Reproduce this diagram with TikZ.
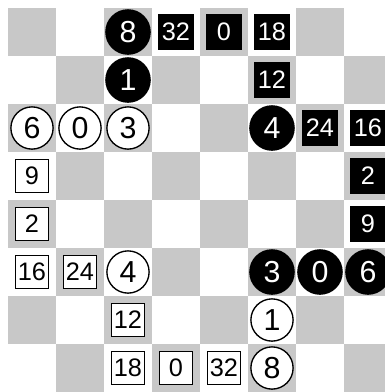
\documentclass[tikz,border=0pt]{standalone}
\usepackage{fontspec}
\setmainfont{Liberation Sans}
\definecolor{boardgray}{HTML}{C8C8C8}

\begin{document}
\begin{tikzpicture}[
 bstone/.style={circle,fill=black,text=white,inner sep=0pt,
  minimum size=0.95cm,font=\fontsize{18}{20}\selectfont},
 wstone/.style={circle,draw=black,line width=0.8pt,fill=white,inner sep=0pt,
  minimum size=0.88cm,font=\fontsize{18}{20}\selectfont},
 bbox/.style={rectangle,fill=black,text=white,inner sep=0pt,
  minimum width=0.75cm,minimum height=0.74cm,font=\fontsize{15}{17}\selectfont},
 wbox/.style={rectangle,draw=black,line width=0.8pt,fill=white,inner sep=0pt,
  minimum width=0.7cm,minimum height=0.68cm,font=\fontsize{15}{17}\selectfont}]
 \clip (-0.1667,0.1667) rectangle (7.854,-8);
 \fill[white] (-0.1667,0.1667) rectangle (7.854,-8);
 % board
 \foreach \r in {1,...,8}{
  \foreach \c in {1,...,8}{
   \pgfmathparse{int(mod(\r+\c,2))}
   \ifnum\pgfmathresult=0
    \fill[boardgray] (\c-1,1-\r) rectangle (\c,-\r);
   \fi
  }
 }
 % top row, black
 \node[bstone] (n13) at (2.5,-0.5){8};
 \node[bbox] (n14) at (3.5,-0.5){32};
 \node[bbox] (n15) at (4.5,-0.5){0};
 \node[bbox] (n16) at (5.5,-0.5){18};
 \node[bstone] (n23) at (2.5,-1.5){1};
 \node[bbox] (n26) at (5.5,-1.5){12};
 % row 3
 \node[wstone] (n31) at (0.5,-2.5){6};
 \node[wstone] (n32) at (1.5,-2.5){0};
 \node[wstone] (n33) at (2.5,-2.5){3};
 \node[bstone] (n36) at (5.5,-2.5){4};
 \node[bbox] (n37) at (6.5,-2.5){24};
 \node[bbox] (n38) at (7.5,-2.5){16};
 % sides
 \node[wbox] (n41) at (0.5,-3.5){9};
 \node[bbox] (n48) at (7.5,-3.5){2};
 \node[wbox] (n51) at (0.5,-4.5){2};
 \node[bbox] (n58) at (7.5,-4.5){9};
 % row 6
 \node[wbox] (n61) at (0.5,-5.5){16};
 \node[wbox] (n62) at (1.5,-5.5){24};
 \node[wstone] (n63) at (2.5,-5.5){4};
 \node[bstone] (n66) at (5.5,-5.5){3};
 \node[bstone] (n67) at (6.5,-5.5){0};
 \node[bstone] (n68) at (7.5,-5.5){6};
 % bottom rows, white
 \node[wbox] (n73) at (2.5,-6.5){12};
 \node[wstone] (n76) at (5.5,-6.5){1};
 \node[wbox] (n83) at (2.5,-7.5){18};
 \node[wbox] (n84) at (3.5,-7.5){0};
 \node[wbox] (n85) at (4.5,-7.5){32};
 \node[wstone] (n86) at (5.5,-7.5){8};
\end{tikzpicture}
\end{document}
